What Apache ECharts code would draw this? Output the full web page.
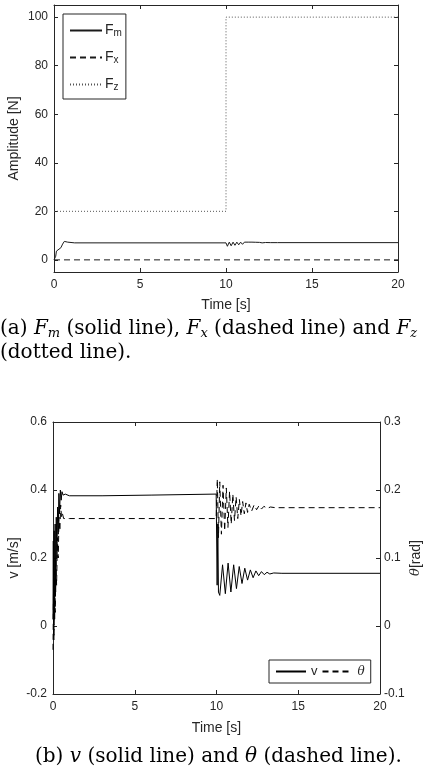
<!DOCTYPE html>
<html>
<head>
<meta charset="utf-8">
<script src="https://cdn.jsdelivr.net/npm/echarts@6/dist/echarts.min.js"></script>
<style>
  html, body { margin: 0; padding: 0; background: #fff; }
  #chart { width: 438px; height: 778px; }
</style>
</head>
<body>
<div id="chart"></div>
<script>
// (a) forces
var fmTime = [0, 0.06, 0.1, 0.14, 0.25, 0.4, 0.5, 0.6, 0.7, 0.8, 0.9, 1.2, 10.0, 10.08, 10.19, 10.3, 10.41, 10.52, 10.63, 10.74, 10.85, 10.96, 11.07, 11.18, 11.29, 11.4, 11.51, 11.62, 11.73, 11.84, 11.95, 12.1, 12.3, 12.6, 13.0, 20];
var fmValue = [0, 0.5, 1.5, 3.6, 4.2, 5.0, 6.5, 7.6, 7.9, 7.3, 7.0, 7.0, 7.0, 5.6, 7.3, 5.8, 7.3, 6.0, 7.3, 6.2, 7.3, 6.4, 7.3, 6.6, 7.3, 6.7, 7.3, 6.8, 7.25, 6.9, 7.2, 7.0, 7.15, 7.1, 7.1, 7.1];
var fxTime = [0, 20];
var fxValue = [0, 0];
var fzTime = [0, 10, 10, 20];
var fzValue = [20, 20, 100, 100];
var forceTicks = [0, 20, 40, 60, 80, 100];

// (b) v [m/s] and theta [rad]
var vTime = [0, 0.02, 0.04, 0.07, 0.1, 0.13, 0.16, 0.2, 0.24, 0.28, 0.32, 0.36, 0.4, 0.45, 0.5, 0.55, 0.62, 0.75, 1.0, 3.0, 6.0, 9.98,
  10.0, 10.04, 10.08, 10.12, 10.2, 10.37, 10.54, 10.71, 10.88, 11.05, 11.22, 11.39, 11.56, 11.73, 11.9, 12.07, 12.24, 12.41, 12.58, 12.75, 12.92, 13.09, 13.26, 13.5, 14.0, 20];
var vValue = [0.02, 0.25, -0.03, 0.28, 0.02, 0.3, 0.1, 0.32, 0.2, 0.35, 0.27, 0.39, 0.33, 0.4, 0.37, 0.395, 0.385, 0.388, 0.383, 0.383, 0.385, 0.388,
  0.39, 0.12, 0.3, 0.1, 0.09, 0.18, 0.095, 0.185, 0.1, 0.18, 0.11, 0.175, 0.125, 0.17, 0.135, 0.165, 0.142, 0.162, 0.148, 0.16, 0.151, 0.158, 0.153, 0.156, 0.155, 0.155];
var thTime = [0, 0.03, 0.06, 0.1, 0.14, 0.18, 0.22, 0.27, 0.32, 0.37, 0.42, 0.47, 0.52, 0.58, 0.65, 1.0, 9.98,
  10.0, 10.05, 10.12, 10.2, 10.3, 10.4, 10.5, 10.6, 10.7, 10.8, 10.9, 11.0, 11.1, 11.2, 11.3, 11.4, 11.5, 11.6, 11.7, 11.8, 11.9, 12.0, 12.15, 12.3, 12.45, 12.6, 12.75, 12.9, 13.1, 13.3, 13.6, 20];
var thValue = [-0.035, 0.05, -0.02, 0.08, 0.02, 0.1, 0.06, 0.13, 0.1, 0.16, 0.14, 0.178, 0.16, 0.165, 0.158, 0.158, 0.158,
  0.158, 0.216, 0.13, 0.212, 0.135, 0.207, 0.14, 0.203, 0.145, 0.198, 0.15, 0.194, 0.155, 0.19, 0.158, 0.186, 0.162, 0.183, 0.165, 0.181, 0.167, 0.179, 0.169, 0.178, 0.171, 0.177, 0.172, 0.176, 0.173, 0.175, 0.174, 0.174];

function pairs(xs, ys) {
  return xs.map(function (x, i) { return [x, ys[i]]; });
}

var ink = '#262626';
var tickFont = { fontFamily: 'Liberation Sans', fontSize: 12, color: ink };
var nameFont = { fontFamily: 'Liberation Sans', fontSize: 14, color: ink };

function xAx(grid, top, name, gap) {
  return {
    type: 'value', gridIndex: grid, min: 0, max: 20, interval: 5,
    position: top ? 'top' : 'bottom',
    name: name, nameLocation: 'middle', nameGap: gap, nameMoveOverlap: false,
    nameTextStyle: nameFont,
    axisLine: { show: true, onZero: false, lineStyle: { color: ink, width: 1 } },
    axisTick: { show: true, inside: true, length: 4, lineStyle: { color: ink } },
    axisLabel: Object.assign({ show: !top, margin: 7 }, tickFont),
    splitLine: { show: false }
  };
}

var chart = echarts.init(document.getElementById('chart'));

var subRich = {
  b: { fontFamily: 'Liberation Sans', fontSize: 14, color: ink, lineHeight: 15, verticalAlign: 'top' },
  s: { fontFamily: 'Liberation Sans', fontSize: 10, color: ink, lineHeight: 11, padding: [9, 0, 0, 0], verticalAlign: 'bottom' }
};

var capRich = {
  r: { fontFamily: 'DejaVu Serif', fontSize: 20, color: '#000' },
  i: { fontFamily: 'DejaVu Serif', fontStyle: 'italic', fontSize: 20, color: '#000' },
  s: { fontFamily: 'DejaVu Serif', fontStyle: 'italic', fontSize: 13, color: '#000', padding: [10, 0, 0, 0] }
};

var noMark = { color: 'rgba(0,0,0,0)', borderWidth: 0, opacity: 0 };

chart.setOption({
  animation: false,
  backgroundColor: '#fff',
  grid: [
    { left: 54, top: 5, width: 344, height: 267, outerBoundsMode: 'none', containLabel: false },
    { left: 53, top: 422, width: 327, height: 272, outerBoundsMode: 'none', containLabel: false }
  ],
  xAxis: [
    xAx(0, false, 'Time [s]', 26),
    xAx(0, true, '', 0),
    xAx(1, false, 'Time [s]', 27),
    xAx(1, true, '', 0)
  ],
  yAxis: [
    {
      type: 'value', gridIndex: 0, min: -5, max: 105, position: 'left',
      name: 'Amplitude [N]', nameLocation: 'middle', nameGap: 33, nameRotate: 90, nameMoveOverlap: false,
      nameTextStyle: nameFont,
      axisLine: { show: true, onZero: false, lineStyle: { color: ink } },
      axisTick: { show: true, inside: true, length: 4, customValues: forceTicks, lineStyle: { color: ink } },
      axisLabel: Object.assign({ customValues: forceTicks, margin: 6 }, tickFont),
      splitLine: { show: false }
    },
    {
      type: 'value', gridIndex: 0, min: -5, max: 105, position: 'right',
      axisLine: { show: true, onZero: false, lineStyle: { color: ink } },
      axisTick: { show: true, inside: true, length: 4, customValues: forceTicks, lineStyle: { color: ink } },
      axisLabel: { show: false, customValues: forceTicks },
      splitLine: { show: false }
    },
    {
      type: 'value', gridIndex: 1, min: -0.2, max: 0.6, interval: 0.2, position: 'left',
      name: 'v [m/s]', nameLocation: 'middle', nameGap: 32, nameRotate: 90, nameMoveOverlap: false,
      nameTextStyle: nameFont,
      axisLine: { show: true, onZero: false, lineStyle: { color: ink } },
      axisTick: { show: true, inside: true, length: 4, lineStyle: { color: ink } },
      axisLabel: Object.assign({ margin: 6 }, tickFont),
      splitLine: { show: false }
    },
    {
      type: 'value', gridIndex: 1, min: -0.1, max: 0.3, interval: 0.1, position: 'right',
      name: '{t|θ}[rad]', nameLocation: 'middle', nameGap: 29, nameRotate: 90, nameMoveOverlap: false,
      nameTextStyle: Object.assign({
        rich: { t: { fontFamily: 'DejaVu Serif', fontStyle: 'italic', fontSize: 13, color: ink } }
      }, nameFont),
      axisLine: { show: true, onZero: false, lineStyle: { color: ink } },
      axisTick: { show: true, inside: true, length: 4, lineStyle: { color: ink } },
      axisLabel: Object.assign({ margin: 4 }, tickFont),
      splitLine: { show: false }
    }
  ],
  legend: [
    {
      orient: 'vertical', left: 63, top: 14,
      data: ['Fm', 'Fx', 'Fz'],
      itemWidth: 32, itemHeight: 10, itemGap: 8,
      padding: [5, 4, 7, 6],
      borderColor: ink, borderWidth: 1, backgroundColor: '#fff',
      selectedMode: false,
      itemStyle: noMark,
      formatter: function (name) { return '{b|F}{s|' + name.slice(1) + '}'; },
      textStyle: { padding: [0, 0, 0, -2], rich: subRich }
    },
    {
      orient: 'horizontal', left: 269, top: 660,
      data: ['v', 'θ'],
      itemWidth: 30, itemHeight: 10, itemGap: 4,
      padding: [5, 6, 5, 6],
      borderColor: ink, borderWidth: 1, backgroundColor: '#fff',
      selectedMode: false,
      itemStyle: noMark,
      formatter: function (name) { return name === 'v' ? '{a|v}' : '{t|θ}'; },
      textStyle: {
        rich: {
          a: { fontFamily: 'Liberation Sans', fontSize: 13, color: ink },
          t: { fontFamily: 'DejaVu Serif', fontStyle: 'italic', fontSize: 12, color: ink }
        }
      }
    }
  ],
  series: [
    {
      name: 'Fm', type: 'line', xAxisIndex: 0, yAxisIndex: 0, symbol: 'none',
      lineStyle: { color: '#1a1a1a', width: 1 }, itemStyle: { color: '#1a1a1a' },
      data: pairs(fmTime, fmValue)
    },
    {
      name: 'Fx', type: 'line', xAxisIndex: 0, yAxisIndex: 0, symbol: 'none',
      lineStyle: { color: '#1a1a1a', width: 1, type: [6, 4] }, itemStyle: { color: '#1a1a1a' },
      data: pairs(fxTime, fxValue)
    },
    {
      name: 'Fz', type: 'line', xAxisIndex: 0, yAxisIndex: 0, symbol: 'none',
      lineStyle: { color: '#555', width: 1, type: [1, 2] }, itemStyle: { color: '#555' },
      data: pairs(fzTime, fzValue)
    },
    {
      name: 'v', type: 'line', xAxisIndex: 2, yAxisIndex: 2, symbol: 'none',
      lineStyle: { color: '#000', width: 1 }, itemStyle: { color: '#000' },
      data: pairs(vTime, vValue)
    },
    {
      name: 'θ', type: 'line', xAxisIndex: 2, yAxisIndex: 3, symbol: 'none',
      lineStyle: { color: '#000', width: 1, type: [6, 4] }, itemStyle: { color: '#000' },
      data: pairs(thTime, thValue)
    }
  ],
  graphic: [
    {
      type: 'text', left: 0, top: 319,
      style: {
        text: '{r|(a) }{i|F}{s|m}{r| (solid line), }{i|F}{s|x}{r| (dashed line) and }{i|F}{s|z}',
        rich: capRich
      }
    },
    {
      type: 'text', left: 0, top: 343,
      style: { text: '{r|(dotted line).}', rich: capRich }
    },
    {
      type: 'text', left: 35, top: 747,
      style: {
        text: '{r|(b) }{i|v}{r| (solid line) and }{i|θ}{r| (dashed line).}',
        rich: capRich
      }
    }
  ]
});
</script>
</body>
</html>
